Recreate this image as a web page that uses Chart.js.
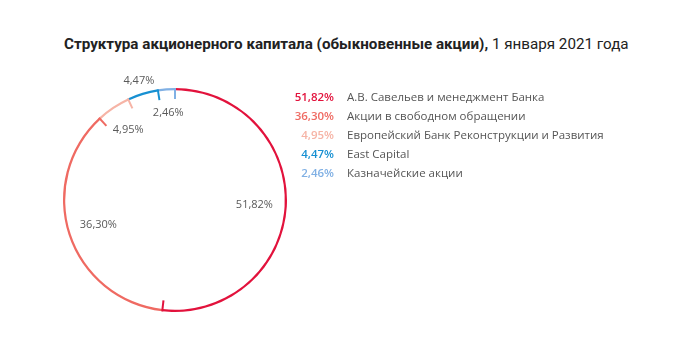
<!DOCTYPE html>
<html lang="ru">
<head>
  <meta charset="UTF-8" />
  <title>Структура акционерного капитала</title>
  <script src="https://cdn.jsdelivr.net/npm/chart.js@4"></script>
  <style>
    html, body { margin: 0; padding: 0; background: #fff; }
    body { width: 673px; height: 361px; position: relative; overflow: hidden; }
    #title {
      position: absolute; left: 64px; top: 35px; white-space: nowrap;
      font-family: Roboto, sans-serif; font-size: 15.2px; color: #222;
    }
    #title b { font-weight: 700; }
    #chart-box { position: absolute; left: 50px; top: 75px; width: 250px; height: 250px; }
    #legend { position: absolute; left: 284px; top: 87px; font-family: "Open Sans", sans-serif; font-size: 11.5px; }
    .row { height: 19px; line-height: 19px; white-space: nowrap; }
    .pct { display: inline-block; width: 50px; text-align: right; font-weight: 600; }
    .lbl { display: inline-block; margin-left: 13px; color: #555; }
  </style>
</head>
<body>
  <div id="title"><b>Структура акционерного капитала (обыкновенные акции),</b> 1 января 2021 года</div>
  <div id="chart-box"><canvas id="pie"></canvas></div>
  <div id="legend"></div>

  <script>
    const labels = [
      'А.В. Савельев и менеджмент Банка',
      'Акции в свободном обращении',
      'Европейский Банк Реконструкции и Развития',
      'East Capital',
      'Казначейские акции'
    ];
    const shares = [51.82, 36.30, 4.95, 4.47, 2.46];
    const colors = ['#e2123c', '#ef6a62', '#f6b4a6', '#1790d2', '#80b0e4'];

    // how far from the centre each value label sits (share of radius)
    const labelRadius = [0.71, 0.72, 0.75, 1.11, 0.78];

    const fmt = v => v.toFixed(2).replace('.', ',') + '%';

    const legend = document.getElementById('legend');
    labels.forEach((l, i) => {
      const row = document.createElement('div');
      row.className = 'row';
      row.innerHTML = `<span class="pct" style="color:${colors[i]}">${fmt(shares[i])}</span><span class="lbl">${l}</span>`;
      legend.appendChild(row);
    });

    const ticksAndLabels = {
      id: 'ticksAndLabels',
      afterDatasetsDraw(chart) {
        const ctx = chart.ctx;
        const arcs = chart.getDatasetMeta(0).data;
        ctx.save();
        arcs.forEach((arc, i) => {
          const { x, y, endAngle, startAngle, outerRadius } = arc.getProps(['x', 'y', 'endAngle', 'startAngle', 'outerRadius'], true);
          // small radial tick at the end of each segment
          ctx.strokeStyle = colors[i];
          ctx.lineWidth = 2;
          ctx.beginPath();
          ctx.moveTo(x + Math.cos(endAngle) * outerRadius, y + Math.sin(endAngle) * outerRadius);
          ctx.lineTo(x + Math.cos(endAngle) * (outerRadius - 11), y + Math.sin(endAngle) * (outerRadius - 11));
          ctx.stroke();

          const mid = (startAngle + endAngle) / 2;
          const r = outerRadius * labelRadius[i];
          ctx.fillStyle = '#5a5a5a';
          ctx.font = '11px "Open Sans", sans-serif';
          ctx.textAlign = 'center';
          ctx.textBaseline = 'middle';
          ctx.fillText(fmt(shares[i]), x + Math.cos(mid) * r, y + Math.sin(mid) * r);
        });
        ctx.restore();
      }
    };

    new Chart(document.getElementById('pie'), {
      type: 'doughnut',
      data: {
        labels: labels,
        datasets: [{
          data: shares,
          backgroundColor: colors,
          borderWidth: 0
        }]
      },
      options: {
        responsive: true,
        maintainAspectRatio: false,
        animation: false,
        cutout: '98%',
        layout: { padding: 13 },
        plugins: {
          legend: { display: false },
          tooltip: { enabled: false }
        }
      },
      plugins: [ticksAndLabels]
    });
  </script>
</body>
</html>
